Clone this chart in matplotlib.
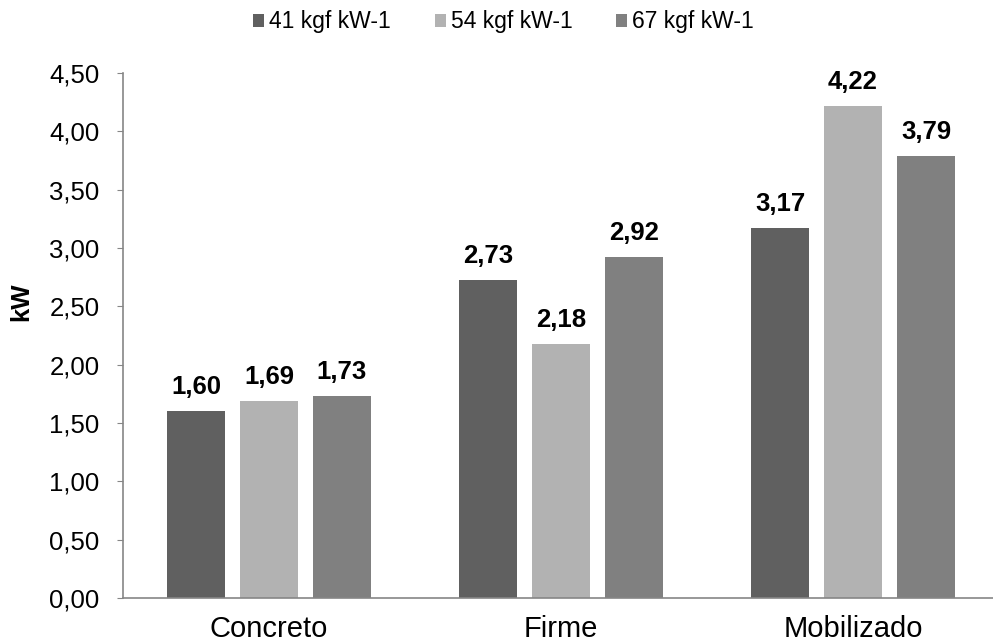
import matplotlib.pyplot as plt
import numpy as np

plt.rcParams['font.family'] = ['Liberation Sans', 'DejaVu Sans']

categories = ["Concreto", "Firme", "Mobilizado"]
series = ["41 kgf kW-1", "54 kgf kW-1", "67 kgf kW-1"]
values = [
    [1.60, 2.73, 3.17],
    [1.69, 2.18, 4.22],
    [1.73, 2.92, 3.79],
]
colors = ["#606060", "#b2b2b2", "#808080"]
yticks = [0.0, 0.5, 1.0, 1.5, 2.0, 2.5, 3.0, 3.5, 4.0, 4.5]

fig = plt.figure(figsize=(9.93, 6.42), dpi=100)
ax = fig.add_axes([123 / 993, 1 - 598 / 642, 876 / 993, 525 / 642])

x = np.arange(len(categories))
width = 0.2
offsets = [-0.25, 0, 0.25]
for i in range(len(series)):
    bars = ax.bar(x + offsets[i], values[i], width, color=colors[i], label=series[i])
    for b, v in zip(bars, values[i]):
        ax.text(b.get_x() + b.get_width() / 2, v + 0.145, "{:.2f}".format(v).replace(".", ","),
                ha="center", va="baseline", fontsize=18.5, fontweight="bold")

ax.set_xlim(-0.5, 2.5)
ax.set_ylim(0, 4.5)
ax.set_yticks(yticks)
ax.set_yticklabels(["{:.2f}".format(t).replace(".", ",") for t in yticks], fontsize=18.5)
ax.set_xticks(x)
ax.set_xticklabels(categories, fontsize=21)
ax.tick_params(axis="x", length=0, pad=12)
ax.tick_params(axis="y", length=4.5, color="#868686", pad=12.5)
ax.set_ylabel("kW", fontsize=18.5, fontweight="bold")
ax.yaxis.set_label_coords(-0.103, 0.564)

for s in ["top", "right"]:
    ax.spines[s].set_visible(False)
for s in ["left", "bottom"]:
    ax.spines[s].set_color("#868686")
    ax.spines[s].set_linewidth(1.2)

fig.legend(loc="upper center", bbox_to_anchor=(0.507, 1.016), ncol=3, frameon=False,
           fontsize=16.5, handlelength=0.48, handleheight=0.48, handletextpad=0.22,
           columnspacing=1.9)

fig.savefig("out.png", dpi=100)
